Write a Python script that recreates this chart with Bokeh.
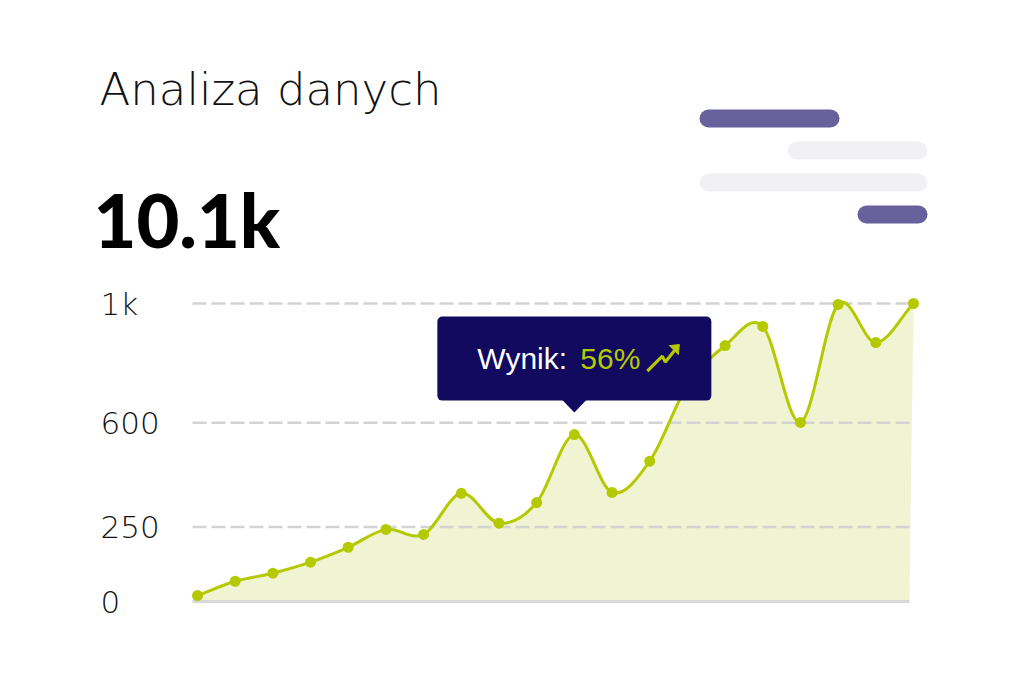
import numpy as np
from bokeh.plotting import figure
from bokeh.models import Range1d
from bokeh.core.properties import value
from bokeh.embed import file_html
from bokeh.resources import INLINE

# ---------------- data ----------------
title_text = "Analiza danych"
kpi_text = "10.1k"
points = [20, 68, 95, 132, 182, 242, 225, 363, 263, 332, 560, 366, 471, 725,
          859, 923, 601, 997, 869, 1000]
y_ticks = [0, 250, 600, 1000]
y_tick_labels = ["0", "250", "600", "1k"]
tooltip_index = 10
tooltip_label = "Wynik:"
tooltip_value = "56%"

# decorative skeleton bars (page pixel layout)
pill_left = [699, 787, 699, 857]
pill_right = [839, 927, 927, 927]
pill_top = [109, 141, 173, 205]
pill_colors = ["#67629b", "#f1f0f5", "#f1f0f5", "#67629b"]

# ---------------- layout ----------------
W, H = 1008, 667
ORIGIN = 0  # page offset of the canvas
X_LEFT_PX, X_RIGHT_PX = 197, 913
Y_ZERO_PX, Y_TOP_PX, Y_TOP_VAL = 601, 303, 1000

n = len(points)
x_step = (X_RIGHT_PX - X_LEFT_PX) / (n - 1)
y_scale = (Y_ZERO_PX - Y_TOP_PX) / Y_TOP_VAL


def X(px):
    return (px - X_LEFT_PX) / x_step


def Y(py):
    return (Y_ZERO_PX - py) / y_scale


LINE = "#b5c900"
AREA = "#f0f4d3"
NAVY = "#110a5e"
GRID = "#d3d3d3"

p = figure(width=W, height=H, output_backend="svg", toolbar_location=None,
           x_range=Range1d(X(ORIGIN), X(ORIGIN + W)),
           y_range=Range1d(Y(ORIGIN + H), Y(ORIGIN)),
           x_axis_location=None, y_axis_location=None,
           min_border=0, outline_line_color=None)
p.xgrid.visible = False
p.ygrid.visible = False
p.background_fill_color = "white"
p.border_fill_color = "white"

xs = np.arange(n, dtype=float)
ys = np.array(points, dtype=float)

# Catmull-Rom tangents -> cubic bezier controls
m = np.empty(n)
m[1:-1] = (ys[2:] - ys[:-2]) / 2
m[0] = ys[1] - ys[0]
m[-1] = ys[-1] - ys[-2]
cx0 = xs[:-1] + 1 / 3
cx1 = xs[1:] - 1 / 3
cy0 = ys[:-1] + m[:-1] / 3
cy1 = ys[1:] - m[1:] / 3

# area under the smooth curve
t = np.linspace(0, 1, 20)[:, None]
bx = ((1 - t) ** 3 * xs[:-1] + 3 * (1 - t) ** 2 * t * cx0 + 3 * (1 - t) * t ** 2 * cx1 + t ** 3 * xs[1:]).T.ravel()
by = ((1 - t) ** 3 * ys[:-1] + 3 * (1 - t) ** 2 * t * cy0 + 3 * (1 - t) * t ** 2 * cy1 + t ** 3 * ys[1:]).T.ravel()
p.patch(np.concatenate([[xs[0]], bx, [X(909)]]), np.concatenate([[0], by, [0]]),
        fill_color=AREA, line_color=None)

# gridlines
gy = [v for v in y_ticks if v != 0]
p.segment(x0=[X(192)] * len(gy), y0=gy, x1=[xs[-1]] * len(gy), y1=gy,
          line_color=GRID, line_width=2.5, line_dash="14 5")
p.segment(x0=[X(192)], y0=[0], x1=[X(909)], y1=[0], line_color="#d9d9d9", line_width=3)

# line + markers
p.bezier(x0=xs[:-1], y0=ys[:-1], x1=xs[1:], y1=ys[1:], cx0=cx0, cy0=cy0, cx1=cx1, cy1=cy1,
         line_color=LINE, line_width=3)
p.scatter(xs, ys, size=11, fill_color=LINE, line_color=None)

# y tick labels
p.text(x=[X(100)] * len(y_ticks), y=y_ticks, text=y_tick_labels,
       text_font=value("DejaVu Sans Light"), text_font_size="31px", text_color="#111111",
       text_baseline="middle", text_align="left")

# titles
p.text(x=[X(99)], y=[Y(89)], text=[title_text], text_font=value("DejaVu Sans Light"),
       text_font_size="45px", text_color="#111111", text_baseline="alphabetic")
p.text(x=[X(93)], y=[Y(219)], text=[kpi_text], text_font=value("Lato Black"),
       text_font_size="74px", text_color="#000000", text_baseline="alphabetic")

# skeleton pills
p.quad(left=[X(v) for v in pill_left], right=[X(v) for v in pill_right],
       top=[Y(v) for v in pill_top], bottom=[Y(v + 18) for v in pill_top],
       fill_color=pill_colors, line_color=None, border_radius=9)

# tooltip anchored at data point
tx = xs[tooltip_index]
tip_py = Y_ZERO_PX - ys[tooltip_index] * y_scale - 22  # page y of arrow tip
tip_px = X_LEFT_PX + tx * x_step


def TX(dx):
    return X(tip_px + dx)


def TY(dy):
    return Y(tip_py + dy)


p.quad(left=[TX(-137)], right=[TX(137)], top=[TY(-96)], bottom=[TY(-12)],
       fill_color=NAVY, line_color=None, border_radius=5)
p.patch([TX(-12), TX(12), TX(0)], [TY(-12.5), TY(-12.5), TY(0)], fill_color=NAVY, line_color=None)
p.text(x=[TX(-97)], y=[TY(-54)], text=[tooltip_label], text_font=value("Liberation Sans"),
       text_font_size="30px", text_color="white", text_baseline="alphabetic")
p.text(x=[TX(6)], y=[TY(-54)], text=[tooltip_value], text_font=value("Liberation Sans"),
       text_font_size="30px", text_color=LINE, text_baseline="alphabetic")
p.line([TX(73), TX(88), TX(91), TX(101)], [TY(-41.5), TY(-56.5), TY(-50.5), TY(-63)],
       line_color=LINE, line_width=3.2)
p.patch([TX(95), TX(105), TX(104)], [TY(-67), TY(-68), TY(-58)], fill_color=LINE, line_color=LINE,
        line_width=1)

open("out.html", "w").write(file_html(p, INLINE))
